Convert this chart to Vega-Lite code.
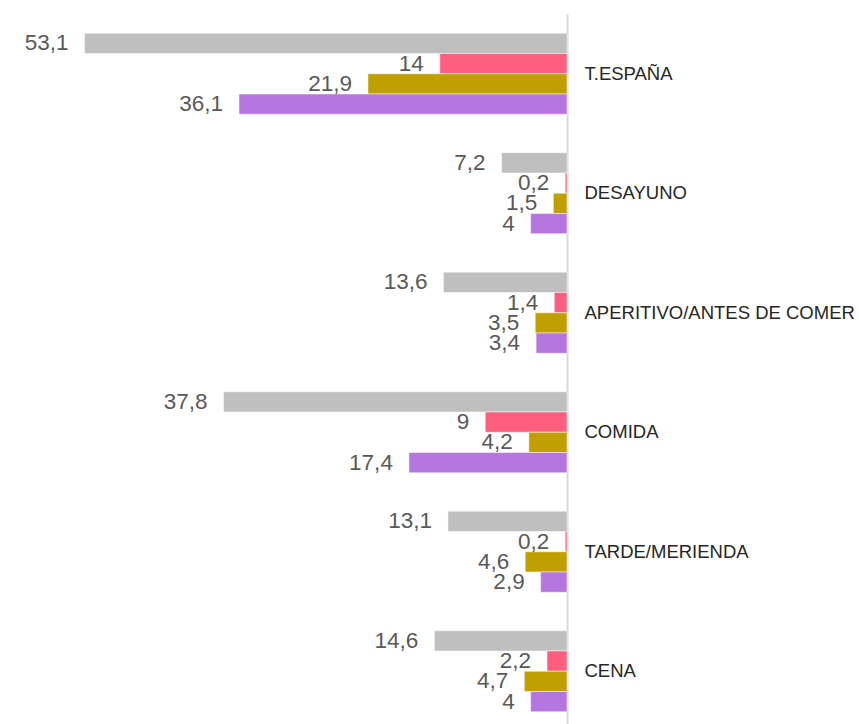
{
  "$schema": "https://vega.github.io/schema/vega-lite/v6.json",
  "width": 567,
  "height": 710,
  "autosize": {"type": "none"},
  "padding": {"left": 0, "top": 14, "right": 292, "bottom": 0},
  "background": "white",
  "config": {
    "view": {"stroke": null},
    "font": "Liberation Sans",
    "locale": {"number": {"decimal": ",", "thousands": ".", "grouping": [3], "currency": ["", " €"]}}
  },
  "data": {
    "values": [
      {"cat": "T.ESPAÑA", "serie": "s1", "v": 53.1},
      {"cat": "T.ESPAÑA", "serie": "s2", "v": 14},
      {"cat": "T.ESPAÑA", "serie": "s3", "v": 21.9},
      {"cat": "T.ESPAÑA", "serie": "s4", "v": 36.1},
      {"cat": "DESAYUNO", "serie": "s1", "v": 7.2},
      {"cat": "DESAYUNO", "serie": "s2", "v": 0.2},
      {"cat": "DESAYUNO", "serie": "s3", "v": 1.5},
      {"cat": "DESAYUNO", "serie": "s4", "v": 4},
      {"cat": "APERITIVO/ANTES DE COMER", "serie": "s1", "v": 13.6},
      {"cat": "APERITIVO/ANTES DE COMER", "serie": "s2", "v": 1.4},
      {"cat": "APERITIVO/ANTES DE COMER", "serie": "s3", "v": 3.5},
      {"cat": "APERITIVO/ANTES DE COMER", "serie": "s4", "v": 3.4},
      {"cat": "COMIDA", "serie": "s1", "v": 37.8},
      {"cat": "COMIDA", "serie": "s2", "v": 9},
      {"cat": "COMIDA", "serie": "s3", "v": 4.2},
      {"cat": "COMIDA", "serie": "s4", "v": 17.4},
      {"cat": "TARDE/MERIENDA", "serie": "s1", "v": 13.1},
      {"cat": "TARDE/MERIENDA", "serie": "s2", "v": 0.2},
      {"cat": "TARDE/MERIENDA", "serie": "s3", "v": 4.6},
      {"cat": "TARDE/MERIENDA", "serie": "s4", "v": 2.9},
      {"cat": "CENA", "serie": "s1", "v": 14.6},
      {"cat": "CENA", "serie": "s2", "v": 2.2},
      {"cat": "CENA", "serie": "s3", "v": 4.7},
      {"cat": "CENA", "serie": "s4", "v": 4}
    ]
  },
  "encoding": {
    "y": {
      "field": "cat", "type": "nominal", "sort": null,
      "scale": {"paddingInner": 0.322, "paddingOuter": 0.161, "range": [0, 717]},
      "axis": {
        "orient": "right", "title": null, "ticks": false,
        "domainColor": "#d9d9d9", "domainWidth": 2,
        "labelFontSize": 18.5, "labelColor": "#262626", "labelPadding": 17,
        "labelFont": "Liberation Sans", "labelLimit": 400
      }
    },
    "yOffset": {
      "field": "serie", "type": "nominal", "sort": ["s1", "s2", "s3", "s4"],
      "scale": {"paddingInner": 0, "paddingOuter": 0}
    },
    "x": {
      "field": "v", "type": "quantitative",
      "scale": {"domain": [0, 62.4], "reverse": true, "nice": false, "zero": true},
      "axis": null
    }
  },
  "layer": [
    {
      "mark": {"type": "bar", "stroke": "white", "strokeWidth": 0.5},
      "encoding": {
        "color": {
          "field": "serie", "type": "nominal",
          "scale": {"domain": ["s1", "s2", "s3", "s4"], "range": ["#bfbfbf", "#ff5f7e", "#bfa000", "#b576e0"]},
          "legend": null
        }
      }
    },
    {
      "mark": {"type": "text", "align": "right", "baseline": "middle", "dx": -16, "fontSize": 22.5, "color": "#595959", "font": "Liberation Sans"},
      "encoding": {
        "text": {"field": "v", "type": "quantitative", "format": ".3~g"}
      }
    }
  ]
}
